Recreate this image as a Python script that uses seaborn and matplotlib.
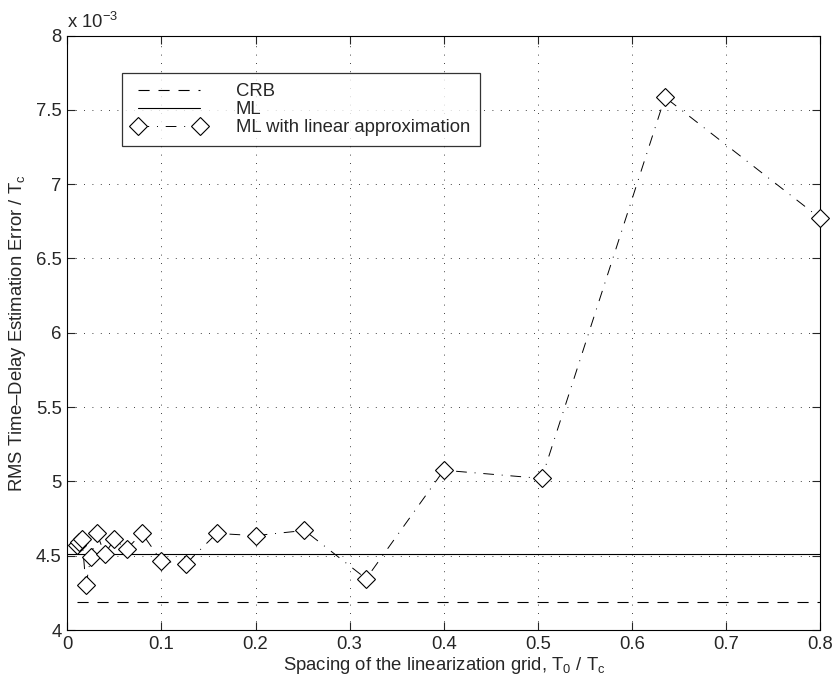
import matplotlib
matplotlib.use('Agg')
import matplotlib.pyplot as plt
from matplotlib.ticker import FuncFormatter, MultipleLocator
import numpy as np
import pandas as pd
import seaborn as sns

# grid spacing T0/Tc and RMS error (x 1e-3)
spacing = [0.0099, 0.0125, 0.0157, 0.0198, 0.025, 0.0315, 0.0397, 0.05, 0.063, 0.0794,
           0.1, 0.126, 0.1587, 0.2, 0.252, 0.3175, 0.4, 0.504, 0.635, 0.8]
ml_lin = [4.57, 4.59, 4.61, 4.30, 4.49, 4.65, 4.51, 4.61, 4.545, 4.65,
          4.465, 4.445, 4.65, 4.635, 4.67, 4.345, 5.075, 5.02, 7.585, 6.77]
crb_level = 4.19
ml_level = 4.512

df = pd.DataFrame({'x': spacing, 'lin': np.array(ml_lin) * 1e-3})
crb = pd.DataFrame({'x': [spacing[0], 0.8], 'y': [crb_level * 1e-3] * 2})
ml = pd.DataFrame({'x': [0.0, 0.8], 'y': [ml_level * 1e-3] * 2})

sns.set_style('ticks')
plt.rcParams['font.family'] = ['Liberation Sans', 'DejaVu Sans']
plt.rcParams['mathtext.fontset'] = 'custom'
plt.rcParams['mathtext.rm'] = 'Liberation Sans'
plt.rcParams['mathtext.it'] = 'Liberation Sans'
fs = 13.3

fig = plt.figure(figsize=(8.36, 6.88), dpi=100)
ax = fig.add_axes([0.0805, 0.0843, 0.9007, 0.864])

sns.lineplot(data=crb, x='x', y='y', ax=ax, color='black', lw=0.8,
             linestyle=(0, (10, 8)), label='CRB')
sns.lineplot(data=ml, x='x', y='y', ax=ax, color='black', lw=0.8, label='ML')
sns.lineplot(data=df, x='x', y='lin', ax=ax, color='black', lw=0.7,
             linestyle=(0, (11, 8, 1, 8)), marker='D', markersize=9.5,
             markerfacecolor='white', markeredgecolor='black', markeredgewidth=0.8,
             label='ML with linear approximation', clip_on=False, zorder=5)

ax.set_xlim(0, 0.8)
ax.set_ylim(4e-3, 8e-3)
ax.xaxis.set_major_locator(MultipleLocator(0.1))
ax.yaxis.set_major_locator(MultipleLocator(0.5e-3))
ax.xaxis.set_major_formatter(FuncFormatter(lambda v, p: '%g' % round(v, 2)))
ax.yaxis.set_major_formatter(FuncFormatter(lambda v, p: '%g' % round(v * 1e3, 2)))
ax.grid(True, color='black', linestyle=(0, (1, 9)), linewidth=0.6)
ax.tick_params(direction='in', length=6, labelsize=fs, width=0.8, top=True, right=True, pad=4)
for s in ax.spines.values():
    s.set_linewidth(0.8)
    s.set_color('black')

ax.set_xlabel('Spacing of the linearization grid, T$_0$ / T$_c$', fontsize=fs, labelpad=2)
ax.set_ylabel('RMS Time\u2013Delay Estimation Error / T$_c$', fontsize=fs, labelpad=6)
ax.text(0.0, 1.006, 'x 10$^{-3}$', transform=ax.transAxes, fontsize=fs, va='bottom')

leg = ax.legend(loc='upper left', bbox_to_anchor=(0.0726, 0.937), numpoints=2,
                handlelength=4.0, fontsize=fs, frameon=True, fancybox=False,
                edgecolor='black', borderpad=0.55, labelspacing=0.05, handletextpad=1.6,
                borderaxespad=0)
leg.get_frame().set_linewidth(0.9)
leg.set_zorder(10)

fig.savefig('out.png', dpi=100)
